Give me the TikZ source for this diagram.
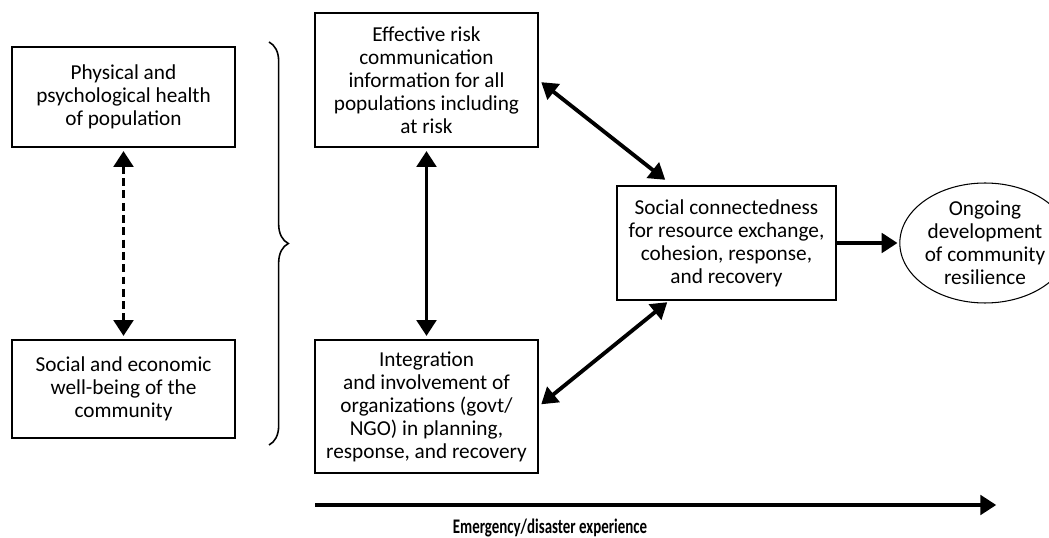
\documentclass[tikz,border=0pt]{standalone}
\usepackage{fontspec}
\setmainfont{Carlito}
\usepackage{tikz}
\usetikzlibrary{arrows.meta,decorations.pathreplacing,shapes.geometric}

\begin{document}
\begin{tikzpicture}[
x=0.02cm, y=0.02cm,
font=\fontsize{12.1}{13.1}\selectfont,
factor/.style={draw, line width=0.6pt, align=center, inner sep=0pt},
outcome/.style={draw, ellipse, line width=0.6pt, align=center, inner sep=0pt, minimum width=2.8cm, minimum height=2.4cm},
twoway/.style={line width=2.2pt,{Triangle[length=9pt,width=11pt]}-{Triangle[length=9pt,width=11pt]},shorten >=2pt,shorten <=2pt},
oneway/.style={line width=2.2pt,-{Triangle[length=9pt,width=11pt]},shorten >=1pt}
]
    \useasboundingbox (0,0) rectangle (1049,538);
    \clip (0,0) rectangle (1049,538);

    % Left column
    \node[factor, minimum width=4.46cm, minimum height=2cm] (health) at (123.5,441)
        {Physical and\\psychological health\\of population};
    \node[factor, minimum width=4.46cm, minimum height=1.96cm] (wellbeing) at (123.5,149)
        {Social and economic\\well-being of the\\community};

    % Middle column
    \node[factor, minimum width=4.46cm, minimum height=2.68cm] (riskcomm) at (426.5,458)
        {Effective risk\\communication\\information for all\\populations including\\at risk};
    \node[factor, minimum width=4.46cm, minimum height=2.66cm] (integration) at (426.5,131.5)
        {Integration\\and involvement of\\organizations (govt/\\NGO) in planning,\\response, and recovery};

    % Right side
    \node[factor, minimum width=4.38cm, minimum height=2.28cm] (connect) at (726.5,295)
        {Social connectedness\\for resource exchange,\\cohesion, response,\\and recovery};
    \node[outcome] (resilience) at (985,295)
        {Ongoing\\development\\of community\\resilience};

    \draw
    (668,356) coordinate (connecttop)
    (670,238) coordinate (connectbot)
    (315,33) coordinate (timestart)
    (998,33) coordinate (timeend);

    % Brace
    \draw[line width=0.9pt, decorate, decoration={brace, amplitude=11pt}]
        (269,496) -- (269,93);

    % Links
    \draw[twoway, dash pattern=on 4.5pt off 2.5pt] (health) -- (wellbeing);
    \draw[twoway] (riskcomm) -- (integration);
    \draw[twoway] (riskcomm.east) -- (connecttop);
    \draw[twoway] (integration.east) -- (connectbot);
    \draw[oneway] (connect) -- (resilience);

    % Time axis
    \draw[oneway] (timestart) -- (timeend);
    \node (timelabel) at (550,10)
        {\fontsize{11.8}{12}\selectfont\bfseries\scalebox{0.72}[1]{Emergency/disaster experience}};

\end{tikzpicture}
\end{document}
